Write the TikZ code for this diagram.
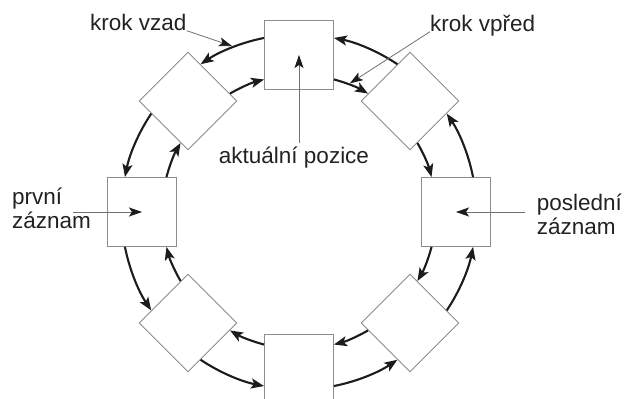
\documentclass[tikz,border=0pt]{standalone}
\usepackage{fontspec}
\setmainfont{Liberation Sans}
\usetikzlibrary{arrows.meta}

\definecolor{boxline}{HTML}{8C8C8C}
\definecolor{leadline}{HTML}{707070}
\definecolor{arcline}{HTML}{1C1C1C}
\definecolor{ink}{HTML}{222222}

\begin{document}
\begin{tikzpicture}[
  x=1pt, y=1pt,
  box/.style={draw=boxline, line width=0.9pt, minimum size=69pt, inner sep=0pt},
  ring/.style={draw=arcline, line width=2.1pt, looseness=0.86,
    -{Stealth[length=13pt, width=10pt, inset=3pt]}},
  lead/.style={draw=leadline, line width=0.8pt,
    -{Stealth[length=13pt, width=9pt, inset=3pt, color=arcline]}},
  label/.style={inner sep=0pt, text=ink, font=\fontsize{22.5pt}{24pt}\selectfont}
]
\clip (0,0) rectangle (624,399);

% centre of the ring
\coordinate (c) at (299,187);

% eight records placed around the ring, each facing outwards
\foreach \a/\n in {90/t, 135/ul, 180/l, 225/ll, 270/b, 315/lr, 0/r, 45/ur}
  \node[box, rotate=\a-90] (\n) at ([shift={(\a:157)}]c) {};

% outer ring: one step forward (counter-clockwise), inner ring: one step back
\foreach \p/\q in {t/ul, ul/l, l/ll, ll/b, b/lr, lr/r, r/ur, ur/t} {
  \draw[ring] (\p.154) to[bend right=11.25] (\q.26);
  \draw[ring] (\q.325) to[bend left=7.9] (\p.215);
}

% labels (two-line labels are anchored on the baseline of their last line)
\node[label, anchor=base west] (vzad) at (90,368.3) {krok vzad};
\node[label, anchor=base west] (vpred) at (430,367.3) {krok vpřed};
\node[label, anchor=base] (akt) at (294,235.7) {aktuální pozice};
\node[label, anchor=base west, align=left] (prvni) at (12,170.5) {první\\záznam};
\node[label, anchor=base west, align=left] (posl) at (536.7,164) {poslední\\záznam};

% pointer ends
\coordinate (vzadTip) at ([shift={(112:179)}]c);
\coordinate (vpredTip) at ([shift={(68.4:138.4)}]c);
\coordinate (aktTop) at ([yshift=4pt]akt.north);
\coordinate (prvniTail) at (73,187);
\coordinate (poslTail) at (525,187);

% pointers
\draw[lead] (vzad.base east) -- (vzadTip);
\draw[lead] (vpred.base west) -- (vpredTip);
\draw[lead] (aktTop -| t.center) -- (t.center);
\draw[lead] (prvniTail) -- (l.center);
\draw[lead] (poslTail) -- (r.center);
\end{tikzpicture}
\end{document}
